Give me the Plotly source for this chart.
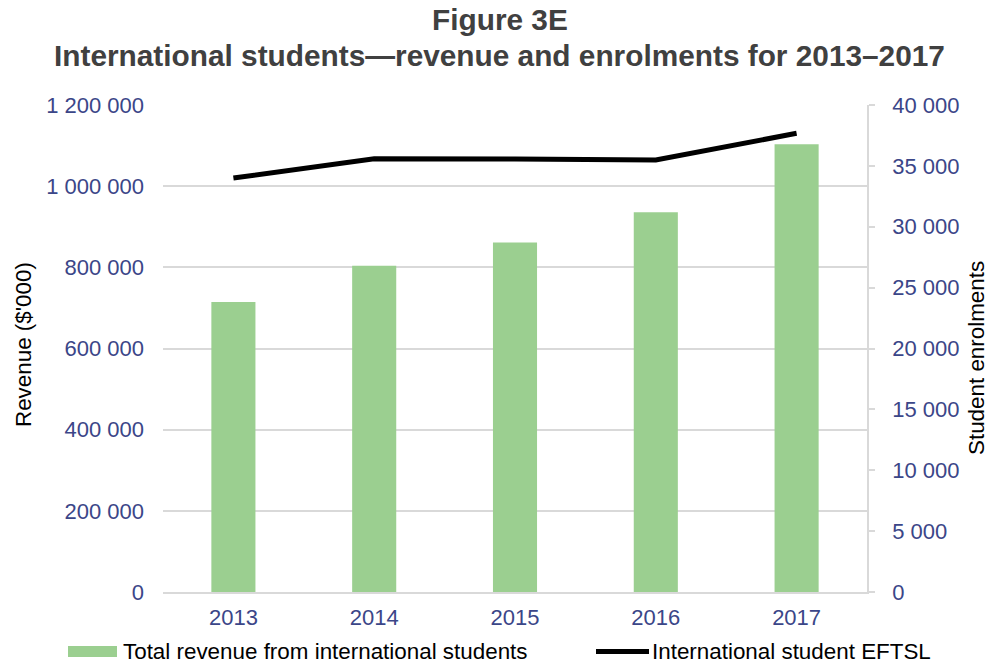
import plotly.graph_objects as go

# Data
years = ["2013", "2014", "2015", "2016", "2017"]
revenue = [714600, 804000, 861000, 936000, 1103000]   # $'000
eftsl = [34000, 35590, 35560, 35480, 37680]           # student enrolments

revenue_name = "Total revenue from international students"
eftsl_name = "International student EFTSL"

title_line1 = "Figure 3E"
title_line2 = "International students\u2014revenue and enrolments for 2013\u20132017"
left_title = "Revenue ($'000)"
right_title = "Student enrolments"

# Styling
FONT = "Liberation Sans, Arial, sans-serif"
BAR_COLOR = "#9bcf90"
TICK_COLOR = "#3b4688"
GRID = "#d9d9d9"

W, H = 989, 663
L, R, T, B = 163, 122, 105, 71
PW, PH = W - L - R, H - T - B


def px_x(px):
    return (px - L) / PW


def px_y(py):
    return (H - B - py) / PH


fig = go.Figure()

fig.add_trace(go.Bar(
    x=years, y=revenue, name=revenue_name,
    marker=dict(color=BAR_COLOR, line=dict(width=0)),
    yaxis="y", showlegend=False,
))

fig.add_trace(go.Scatter(
    x=years, y=eftsl, name=eftsl_name, mode="lines",
    line=dict(color="black", width=5),
    yaxis="y2", showlegend=False,
))

annotations = [
    dict(text=f"<b>{title_line1}</b>", x=px_x(500), y=px_y(19.5),
         font=dict(size=29.8, color="#404040", family=FONT)),
    dict(text=f"<b>{title_line2}</b>", x=px_x(499), y=px_y(55.4),
         font=dict(size=29.8, color="#404040", family=FONT)),
    dict(text=left_title, x=px_x(23), y=px_y(345), textangle=-90,
         font=dict(size=22.4, color="black", family=FONT)),
    dict(text=right_title, x=px_x(976), y=px_y(358), textangle=-90,
         font=dict(size=22.4, color="black", family=FONT)),
    dict(text=revenue_name, x=px_x(121), y=px_y(651), xanchor="left",
         font=dict(size=22.4, color="black", family=FONT)),
    dict(text=eftsl_name, x=px_x(650), y=px_y(651), xanchor="left",
         font=dict(size=22.4, color="black", family=FONT)),
]
for a in annotations:
    a.setdefault("xanchor", "center")
    a.update(xref="paper", yref="paper", yanchor="middle", showarrow=False)

# Legend keys
shapes = [
    dict(type="rect", xref="paper", yref="paper",
         x0=px_x(68), x1=px_x(117), y0=px_y(657), y1=px_y(646),
         fillcolor=BAR_COLOR, line=dict(width=0)),
    dict(type="line", xref="paper", yref="paper",
         x0=px_x(596), x1=px_x(649), y0=px_y(651.5), y1=px_y(651.5),
         line=dict(color="black", width=5)),
]

fig.update_layout(
    width=W, height=H,
    margin=dict(l=L, r=R, t=T, b=B, pad=0),
    paper_bgcolor="white", plot_bgcolor="white",
    separators=". ",
    font=dict(family=FONT, size=22, color=TICK_COLOR),
    bargap=0.687,
    annotations=annotations,
    shapes=shapes,
    xaxis=dict(
        type="category", showgrid=False, showline=True,
        linecolor=GRID, linewidth=1.5, ticks="",
        ticklabelstandoff=5,
        tickfont=dict(size=22, color=TICK_COLOR, family=FONT),
    ),
    yaxis=dict(
        range=[0, 1200000], dtick=200000, tickformat=",d",
        showgrid=True, gridcolor=GRID, gridwidth=1.5,
        showline=False, zeroline=False, ticks="",
        ticklabelstandoff=18,
        tickfont=dict(size=22, color=TICK_COLOR, family=FONT),
    ),
    yaxis2=dict(
        range=[0, 40000], dtick=5000, tickformat=",d",
        overlaying="y", side="right", showgrid=False, zeroline=False,
        showline=True, linecolor=GRID, linewidth=1.5,
        ticks="outside", ticklen=6, tickcolor=GRID, tickwidth=1.5,
        ticklabelstandoff=13,
        tickfont=dict(size=22, color=TICK_COLOR, family=FONT),
    ),
)

fig.write_html("out.html")
